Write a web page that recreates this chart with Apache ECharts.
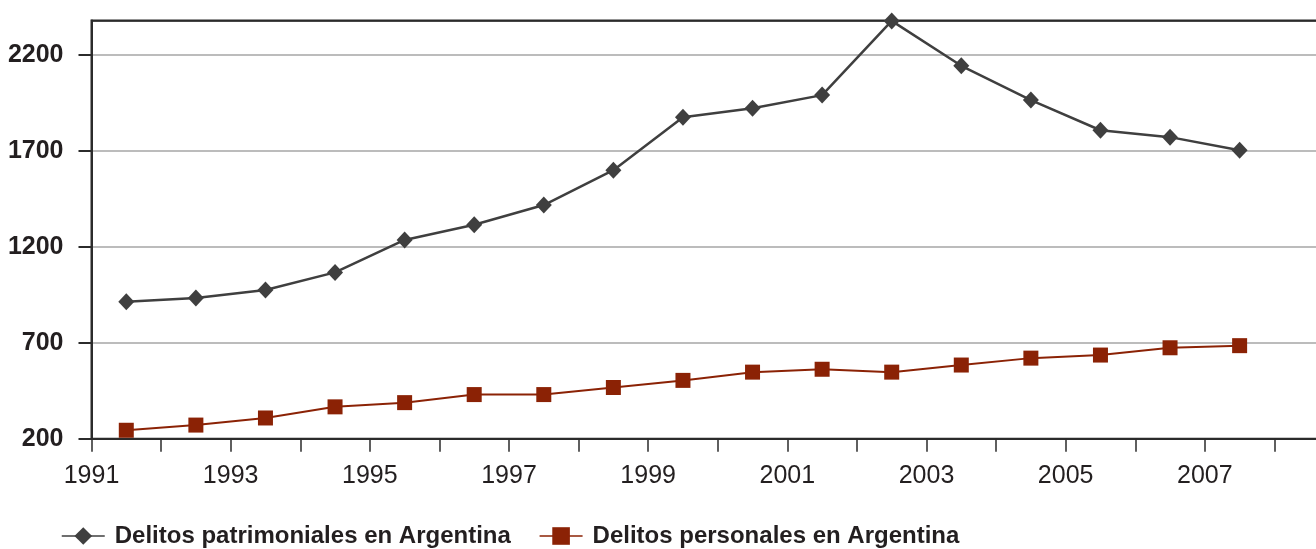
<!DOCTYPE html>
<html>
<head>
<meta charset="utf-8">
<title>Delitos en Argentina</title>
<script src="https://cdn.jsdelivr.net/npm/echarts@6/dist/echarts.min.js"></script>
<style>
	html,body{margin:0;padding:0;background:#fff;}
	#data_chart{width:1316px;height:549px;}
</style>
</head>
<body>
<div id="data_chart"></div>
<script>
// años (cada punto cae en el centro del año)
var years = [1991,1992,1993,1994,1995,1996,1997,1998,1999,2000,2001,2002,2003,2004,2005,2006,2007];
var patrimoniales = [914,933,975,1067,1236,1315,1418,1600,1876,1923,1991,2378,2144,1965,1808,1772,1704];
var personales = [244,271,308,366,388,430,430,467,504,547,562,547,584,620,636,674,685];
var xLabels = [1991,1993,1995,1997,1999,2001,2003,2005,2007];
var nombres = ['Delitos patrimoniales en Argentina','Delitos personales en Argentina'];

var fuente = "'Liberation Sans',Arial,sans-serif";

function toPoints(vals){
	return years.map(function(y,i){ return [y+0.5, vals[i]]; });
}

var myChart = echarts.init(document.getElementById('data_chart'));
var option = {
	animation:false,
	backgroundColor:'#fff',
	// borde del grid = línea superior; el lado derecho queda fuera del lienzo
	grid:{
		left:91.5, right:-28, top:20.5, bottom:110.3,
		containLabel:false,
		outerBoundsMode:'none',
		show:true,
		borderColor:'#2b2b2b',
		borderWidth:2,
		backgroundColor:'transparent'
	},
	legend:{
		left:56,
		top:519,
		itemWidth:43,
		itemHeight:22,
		itemGap:28,
		data:nombres,
		lineStyle:{width:1.5},
		textStyle:{
			fontFamily:fuente,
			fontWeight:'bold',
			fontSize:24,
			color:'#231f20',
			padding:[0,0,0,5]
		}
	},
	xAxis:{
		type:'value',
		min:1991,
		max:2009,
		interval:1,
		axisLine:{show:true, lineStyle:{color:'#2b2b2b', width:2}},
		axisTick:{show:true, length:13, lineStyle:{color:'#2b2b2b', width:1.5}},
		splitLine:{show:false},
		axisLabel:{
			customValues:xLabels,
			margin:25,
			fontFamily:fuente,
			fontSize:25,
			color:'#231f20',
			formatter:function(v){ return String(v); }
		}
	},
	yAxis:{
		type:'value',
		min:200,
		max:2380,
		interval:500,
		axisLine:{show:true, lineStyle:{color:'#2b2b2b', width:2}},
		axisTick:{show:true, length:13, lineStyle:{color:'#2b2b2b', width:2}},
		// la última línea (en el máximo) coincide con el borde superior
		splitLine:{show:true, lineStyle:{color:['#a6a6a6','#a6a6a6','#a6a6a6','#a6a6a6','#a6a6a6','#2b2b2b'], width:1.5}},
		axisLabel:{
			showMaxLabel:false,
			margin:28,
			fontFamily:fuente,
			fontWeight:'bold',
			fontSize:25,
			color:'#231f20',
			formatter:function(v){ return String(v); }
		}
	},
	series:[{
		name:nombres[0],
		type:'line',
		data:toPoints(patrimoniales),
		symbol:'diamond',
		symbolSize:[16,17],
		clip:false,
		lineStyle:{color:'#3f3f3f', width:2.5},
		itemStyle:{color:'#3f3f3f'},
		z:3
	},{
		name:nombres[1],
		type:'line',
		data:toPoints(personales),
		symbol:'rect',
		symbolSize:15,
		clip:false,
		lineStyle:{color:'#8b2205', width:2},
		itemStyle:{color:'#8b2205'},
		z:3
	}]
};
myChart.setOption(option);
</script>
</body>
</html>
